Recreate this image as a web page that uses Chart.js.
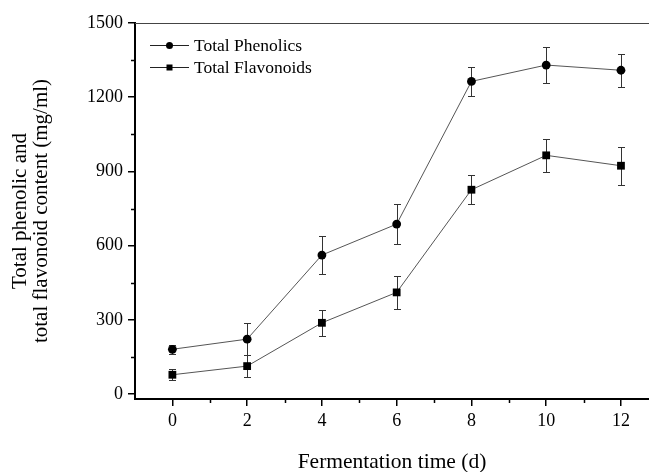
<!DOCTYPE html>
<html>
<head>
<meta charset="utf-8">
<script src="https://cdn.jsdelivr.net/npm/chart.js@4.4.1/dist/chart.umd.min.js"></script>
<style>
  html, body { margin: 0; padding: 0; background: #fff; }
  #wrap { width: 649px; height: 472px; }
</style>
</head>
<body>
<div id="wrap"><canvas id="chart"></canvas></div>
<script>
const days = [0, 2, 4, 6, 8, 10, 12]
const phenolics = [181, 222, 562, 687, 1264, 1330, 1309]
const phenolicsErr = [19, 64, 78, 80, 60, 71, 66]
const flavonoids = [78, 113, 288, 411, 826, 965, 923]
const flavonoidsErr = [22, 46, 52, 67, 59, 68, 77]
const xTicks = [0, 2, 4, 6, 8, 10, 12]
const yTicks = [0, 300, 600, 900, 1200, 1500]

const serif = "'Liberation Serif', 'Times New Roman', serif"

const points = (ys) => days.map((d, i) => ({x: d, y: ys[i]}))

// error bars, minor ticks, top border and the little legend
const extras = {
  id: 'extras',
  beforeDatasetsDraw(chart) {
    const ctx = chart.ctx, x = chart.scales.x, y = chart.scales.y
    ctx.save()
    ctx.strokeStyle = '#333'
    ctx.lineWidth = 1
    chart.data.datasets.forEach(ds => {
      ds.data.forEach((p, i) => {
        const px = Math.round(x.getPixelForValue(p.x)) + 0.5
        const top = Math.round(y.getPixelForValue(p.y + ds.err[i])) + 0.5
        const bot = Math.round(y.getPixelForValue(p.y - ds.err[i])) + 0.5
        ctx.beginPath()
        ctx.moveTo(px, top); ctx.lineTo(px, bot)
        ctx.moveTo(px - 3.5, top); ctx.lineTo(px + 3.5, top)
        ctx.moveTo(px - 3.5, bot); ctx.lineTo(px + 3.5, bot)
        ctx.stroke()
      })
    })
    ctx.restore()
  },
  afterDraw(chart) {
    const ctx = chart.ctx, x = chart.scales.x, y = chart.scales.y
    const a = chart.chartArea
    ctx.save()
    ctx.strokeStyle = '#000'
    ctx.lineWidth = 1.5
    ctx.beginPath()
    for (let v = 1; v < 13; v += 2) {
      const px = Math.round(x.getPixelForValue(v)) + 0.5
      ctx.moveTo(px, a.bottom); ctx.lineTo(px, a.bottom + 4)
    }
    for (let v = 150; v < 1500; v += 300) {
      const py = Math.round(y.getPixelForValue(v)) + 0.5
      ctx.moveTo(a.left, py); ctx.lineTo(a.left - 4, py)
    }
    ctx.stroke()

    ctx.strokeStyle = '#444'
    ctx.lineWidth = 1
    ctx.beginPath()
    ctx.moveTo(a.left, a.top + 0.5); ctx.lineTo(a.right, a.top + 0.5)
    ctx.stroke()

    // legend
    const items = [
      {text: 'Total Phenolics', shape: 'circle', y: 45},
      {text: 'Total Flavonoids', shape: 'rect', y: 67}
    ]
    items.forEach(it => {
      ctx.strokeStyle = '#222'
      ctx.lineWidth = 1
      ctx.beginPath()
      ctx.moveTo(150, it.y + 0.5); ctx.lineTo(189, it.y + 0.5)
      ctx.stroke()
      ctx.fillStyle = '#000'
      if (it.shape === 'circle') {
        ctx.beginPath()
        ctx.arc(169.5, it.y + 0.5, 3.5, 0, Math.PI * 2)
        ctx.fill()
      } else {
        ctx.fillRect(166.5, it.y - 2.5, 6, 6)
      }
      ctx.font = '17.5px ' + serif
      ctx.textBaseline = 'middle'
      ctx.textAlign = 'left'
      ctx.fillText(it.text, 194, it.y + 1)
    })
    ctx.restore()
  }
}

const data = {
  datasets: [{
    label: 'Total Phenolics',
    data: points(phenolics),
    err: phenolicsErr,
    borderColor: '#555',
    borderWidth: 1,
    pointStyle: 'circle',
    pointRadius: 4.4,
    pointBackgroundColor: '#000',
    pointBorderColor: '#000',
    pointBorderWidth: 0
  }, {
    label: 'Total Flavonoids',
    data: points(flavonoids),
    err: flavonoidsErr,
    borderColor: '#555',
    borderWidth: 1,
    pointStyle: 'rect',
    pointRadius: 5.5,
    pointBackgroundColor: '#000',
    pointBorderColor: '#000',
    pointBorderWidth: 0
  }]
}

const config = {
  type: 'line',
  data: data,
  options: {
    responsive: true,
    maintainAspectRatio: false,
    animation: false,
    layout: {autoPadding: false, padding: {top: 23, left: 0, right: 0, bottom: 0}},
    plugins: {
      legend: {display: false},
      tooltip: {enabled: false}
    },
    scales: {
      x: {
        type: 'linear',
        min: -1,
        max: 12.75,
        afterBuildTicks: s => { s.ticks = xTicks.map(v => ({value: v})) },
        afterFit: s => { s.height = 73 },
        border: {display: true, color: '#000', width: 2},
        grid: {drawOnChartArea: false, drawTicks: true, tickLength: 7, color: '#000', lineWidth: 1.5},
        ticks: {color: '#000', padding: 4, font: {family: serif, size: 18}, callback: v => String(v)},
        title: {
          display: true,
          text: 'Fermentation time (d)',
          color: '#000',
          font: {family: serif, size: 21.5, lineHeight: 1},
          padding: {top: 0, bottom: -1}
        }
      },
      y: {
        type: 'linear',
        min: -20,
        max: 1500,
        afterBuildTicks: s => { s.ticks = yTicks.map(v => ({value: v})) },
        afterFit: s => { s.width = 135 },
        border: {display: true, color: '#000', width: 2},
        grid: {drawOnChartArea: false, drawTicks: true, tickLength: 7, color: '#000', lineWidth: 1.5},
        ticks: {color: '#000', padding: 5, font: {family: serif, size: 18}, callback: v => String(v)},
        title: {
          display: true,
          text: ['Total phenolic and', 'total flavonoid content (mg/ml)'],
          color: '#000',
          font: {family: serif, size: 21, lineHeight: 1},
          padding: {top: 10, bottom: 0}
        }
      }
    }
  },
  plugins: [extras]
}

let chart = new Chart(document.querySelector('#chart'), config)
</script>
</body>
</html>
